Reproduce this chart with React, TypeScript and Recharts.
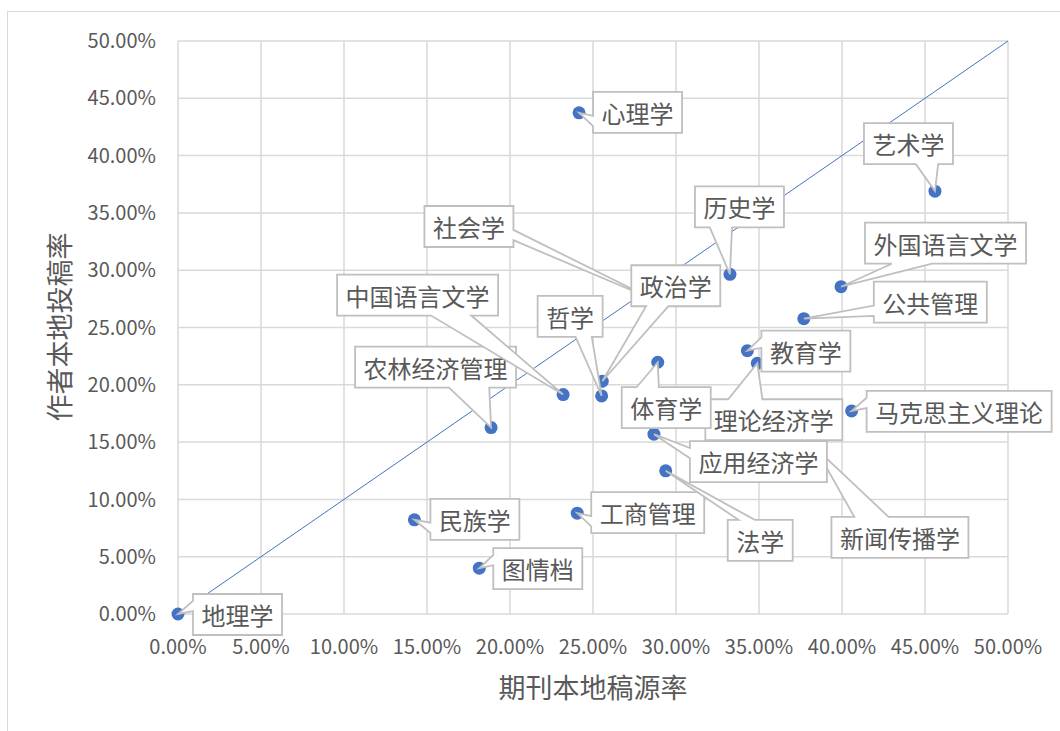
import { ScatterChart, Scatter, XAxis, YAxis, CartesianGrid } from "recharts";

// 学科（绘制顺序即标签叠放顺序）
const disciplines = [
  "地理学",
  "民族学",
  "图情档",
  "工商管理",
  "农林经济管理",
  "中国语言文学",
  "社会学",
  "哲学",
  "政治学",
  "心理学",
  "理论经济学",
  "体育学",
  "新闻传播学",
  "应用经济学",
  "法学",
  "历史学",
  "教育学",
  "公共管理",
  "外国语言文学",
  "马克思主义理论",
  "艺术学",
];

// 期刊本地稿源率 (%)
const journalLocalRate = [
  0, 14.24, 18.15, 24.05, 18.86, 23.2, 28.7, 25.52, 25.56, 24.16, 34.9, 28.9,
  38.4, 28.67, 29.38, 33.25, 34.3, 37.7, 39.94, 40.58, 45.6,
];

// 作者本地投稿率 (%)
const authorLocalRate = [
  0, 8.22, 4.0, 8.8, 16.27, 19.15, 27.4, 19.03, 20.31, 43.73, 21.88, 21.97,
  14.5, 15.69, 12.49, 29.64, 22.98, 25.77, 28.56, 17.72, 36.9,
];

const axisTicks = [0, 5, 10, 15, 20, 25, 30, 35, 40, 45, 50];

const diagonal = [
  { x: 0, y: 0 },
  { x: 50, y: 50 },
];

// callout box offset from its point (px) and the edge the pointer leaves from
type Side = "L" | "R" | "T" | "B";
const calloutPlacement: Record<string, [number, number, Side]> = {
  地理学: [15, -20, "L"],
  民族学: [16, -21, "L"],
  图情档: [14, -20, "L"],
  工商管理: [14, -21, "L"],
  农林经济管理: [-136, -81, "B"],
  中国语言文学: [-226, -120, "B"],
  社会学: [-230, -94, "R"],
  哲学: [-64, -100, "B"],
  政治学: [29, -116, "B"],
  心理学: [14, -21, "L"],
  理论经济学: [-52, 36, "T"],
  体育学: [-36, 25, "T"],
  新闻传播学: [16, 69, "T"],
  应用经济学: [36, 7, "L"],
  法学: [62, 49, "T"],
  历史学: [-35, -88, "B"],
  教育学: [14, -20, "L"],
  公共管理: [70, -37, "L"],
  外国语言文学: [24, -64, "B"],
  马克思主义理论: [15, -20, "L"],
  艺术学: [-71, -68, "B"],
};

const points = disciplines.map((name, i) => ({
  name,
  x: journalLocalRate[i],
  y: authorLocalRate[i],
}));

const FONT = '"Noto Sans CJK SC", "Noto Sans", sans-serif';
const TEXT = "#595959";
const BLUE = "#4472C4";

const fmt = (v: number) => `${v.toFixed(2)}%`;

const Dot = (props: any) => {
  const { cx, cy } = props;
  if (cx == null || cy == null) return <g />;
  return <circle cx={cx} cy={cy} r={6.5} fill={BLUE} />;
};

const Callout = (props: any) => {
  const { cx, cy, payload } = props;
  if (cx == null || cy == null || !payload) return <g />;
  const name: string = payload.name;
  const [dx, dy, side] = calloutPlacement[name];
  const w = name.length * 24 + 17;
  const h = 41;
  const x0 = cx + dx;
  const y0 = cy + dy;
  const x1 = x0 + w;
  const y1 = y0 + h;
  let d = "";
  if (side === "B" || side === "T") {
    const [a, b] =
      cx <= x0 + w / 2
        ? [x0 + w / 6, x0 + (w * 5) / 12]
        : [x0 + (w * 7) / 12, x0 + (w * 5) / 6];
    d =
      side === "B"
        ? `M${x0},${y0}H${x1}V${y1}H${b}L${cx},${cy}L${a},${y1}H${x0}Z`
        : `M${x0},${y0}H${a}L${cx},${cy}L${b},${y0}H${x1}V${y1}H${x0}Z`;
  } else {
    const [a, b] =
      cy <= y0 + h / 2
        ? [y0 + h / 6, y0 + (h * 5) / 12]
        : [y0 + (h * 7) / 12, y0 + (h * 5) / 6];
    d =
      side === "L"
        ? `M${x0},${y0}H${x1}V${y1}H${x0}V${b}L${cx},${cy}L${x0},${a}Z`
        : `M${x0},${y0}H${x1}V${a}L${cx},${cy}L${x1},${b}V${y1}H${x0}Z`;
  }
  return (
    <g>
      <path d={d} fill="#fff" stroke="#bfbfbf" strokeWidth={1.8} />
      <text
        x={x0 + w / 2}
        y={y0 + h / 2}
        textAnchor="middle"
        dominantBaseline="central"
        fontSize={24}
        fontFamily={FONT}
        fill={TEXT}
      >
        {name}
      </text>
    </g>
  );
};

const NoMark = () => <g />;

export default function App() {
  const tick = { fill: TEXT, fontSize: 20, fontFamily: FONT };
  return (
    <div
      style={{
        position: "fixed",
        left: 0,
        top: 0,
        width: 1060,
        height: 731,
        overflow: "hidden",
        background: "#fff",
      }}
    >
      <div
        style={{
          position: "absolute",
          left: 7,
          top: 11,
          width: 1200,
          height: 900,
          border: "1.5px solid #d9d9d9",
        }}
      />
      <div style={{ position: "absolute", left: 0, top: 0 }}>
        <ScatterChart
          width={1060}
          height={731}
          margin={{ top: 41, right: 52, bottom: 57, left: 0 }}
        >
          <CartesianGrid stroke="#d9d9d9" strokeWidth={1.5} />
          <XAxis
            type="number"
            dataKey="x"
            domain={[0, 50]}
            ticks={axisTicks}
            interval={0}
            tickFormatter={fmt}
            axisLine={false}
            tickLine={false}
            tickSize={0}
            tickMargin={26}
            height={60}
            tick={tick}
          />
          <YAxis
            type="number"
            dataKey="y"
            domain={[0, 50]}
            ticks={axisTicks}
            interval={0}
            tickFormatter={fmt}
            axisLine={false}
            tickLine={false}
            tickSize={0}
            tickMargin={22}
            width={178}
            tick={tick}
          />
          <Scatter
            data={diagonal}
            line={{ stroke: BLUE, strokeWidth: 1 }}
            shape={NoMark}
            isAnimationActive={false}
          />
          <Scatter data={points} shape={Dot} isAnimationActive={false} />
          <Scatter data={points} shape={Callout} isAnimationActive={false} />
        </ScatterChart>
      </div>
      <div
        style={{
          position: "absolute",
          left: 593,
          top: 686,
          transform: "translate(-50%, -50%)",
          whiteSpace: "nowrap",
          fontFamily: FONT,
          fontSize: 27,
          lineHeight: 1,
          color: TEXT,
        }}
      >
        期刊本地稿源率
      </div>
      <div
        style={{
          position: "absolute",
          left: 58,
          top: 327,
          transform: "translate(-50%, -50%) rotate(-90deg)",
          whiteSpace: "nowrap",
          fontFamily: FONT,
          fontSize: 27,
          lineHeight: 1,
          color: TEXT,
        }}
      >
        作者本地投稿率
      </div>
    </div>
  );
}
